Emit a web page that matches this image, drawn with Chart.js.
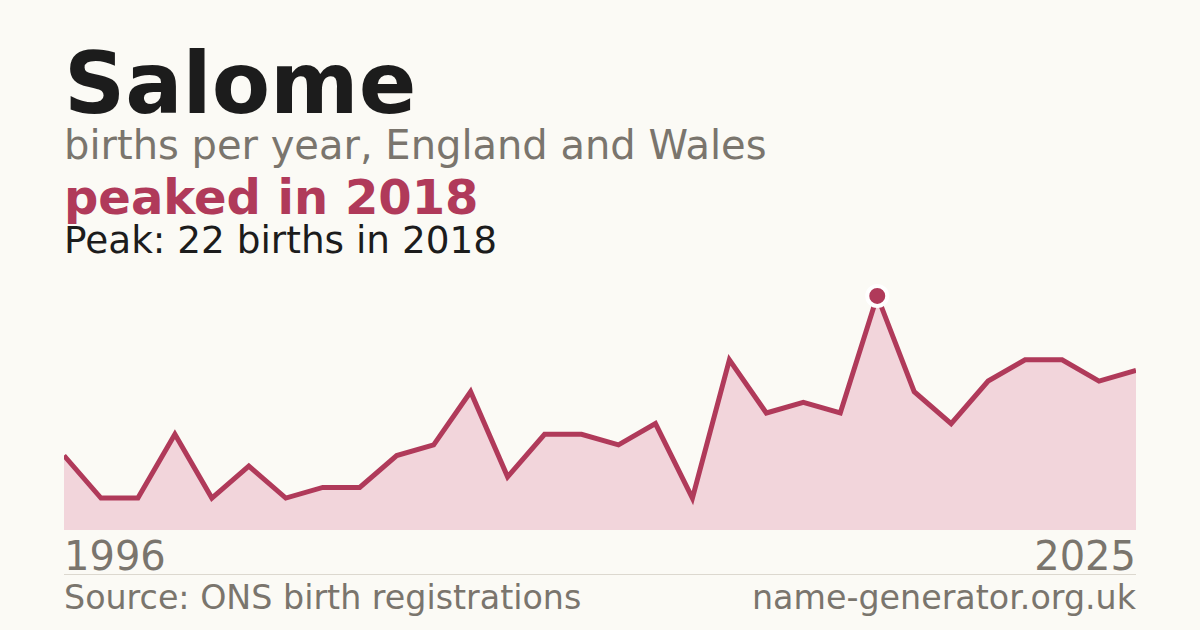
<!DOCTYPE html>
<html>
<head>
<meta charset="utf-8">
<script src="https://cdn.jsdelivr.net/npm/chart.js@4/dist/chart.umd.min.js"></script>
<style>
  html, body { margin:0; padding:0; }
  body { width:1200px; height:630px; background:#fbfaf5; position:relative; overflow:hidden; font-family:"DejaVu Sans", sans-serif; }
  .t { position:absolute; line-height:1; white-space:nowrap; }
  #title { left:64px; top:41px; font-size:85px; font-weight:bold; color:#1c1c1c; }
  #sub { left:64px; top:125px; font-size:40px; color:#7a756d; }
  #hl { left:64px; top:173px; font-size:48px; font-weight:bold; color:#b03a5a; }
  #peak { left:64px; top:222px; font-size:37.4px; color:#1c1c1c; }
  #x0 { left:64px; top:536px; font-size:40px; color:#7a756d; }
  #x1 { right:64px; top:536px; font-size:40px; color:#7a756d; }
  #sep { position:absolute; left:64px; top:574px; width:1072px; height:1px; background:#dcd8cf; }
  #src { left:64px; top:581px; font-size:33.3px; color:#7a756d; }
  #site { right:64px; top:581px; font-size:33.3px; color:#7a756d; }
  #wrap { position:absolute; left:64px; top:270px; width:1072px; height:260px; }
</style>
</head>
<body>
<div class="t" id="title">Salome</div>
<div class="t" id="sub">births per year, England and Wales</div>
<div class="t" id="hl">peaked in 2018</div>
<div class="t" id="peak">Peak: 22 births in 2018</div>
<div id="wrap"><canvas id="c" width="1072" height="260"></canvas></div>
<div class="t" id="x0"></div>
<div class="t" id="x1"></div>
<div id="sep"></div>
<div class="t" id="src">Source: ONS birth registrations</div>
<div class="t" id="site">name-generator.org.uk</div>
<script>
const years = [1996,1997,1998,1999,2000,2001,2002,2003,2004,2005,2006,2007,2008,2009,2010,2011,2012,2013,2014,2015,2016,2017,2018,2019,2020,2021,2022,2023,2024,2025];
const births = [7,3,3,9,3,6,3,4,4,7,8,13,5,9,9,8,10,3,16,11,12,11,22,13,10,14,16,16,14,15];
const xTickLabels = ["1996","2025"];
const peakYear = 2018;

document.getElementById('x0').textContent = xTickLabels[0];
document.getElementById('x1').textContent = xTickLabels[1];

const peakIdx = years.indexOf(peakYear);
const radii = years.map((y,i) => i === peakIdx ? 10 : 0);

new Chart(document.getElementById('c'), {
  type: 'line',
  data: {
    labels: years.map(String),
    datasets: [{
      data: births,
      borderColor: '#b03a5a',
      borderWidth: 5,
      backgroundColor: '#f2d5db',
      fill: 'origin',
      tension: 0,
      pointRadius: radii,
      pointHoverRadius: radii,
      pointBackgroundColor: '#b03a5a',
      pointBorderColor: '#ffffff',
      pointBorderWidth: 4,
      clip: false
    }]
  },
  options: {
    responsive: false,
    animation: false,
    devicePixelRatio: 1,
    layout: { padding: 0 },
    plugins: { legend: { display:false }, tooltip: { enabled:false } },
    scales: {
      x: { display:false, offset:false },
      y: { display:false, min:0, max:24.44 }
    }
  }
});
</script>
</body>
</html>
